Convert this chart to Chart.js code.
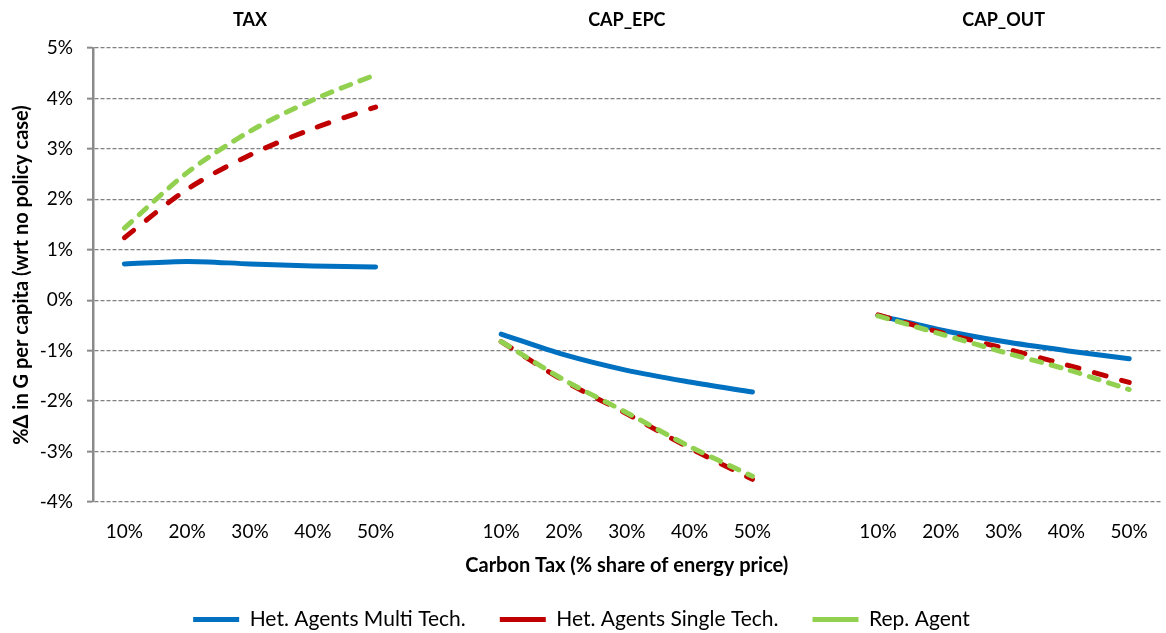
<!DOCTYPE html>
<html>
<head>
<meta charset="utf-8">
<script src="https://cdn.jsdelivr.net/npm/chart.js@4.4.1/dist/chart.umd.min.js"></script>
<style>
html,body{margin:0;padding:0;background:#fff;}
#wrap{width:1166px;height:633px;position:relative;}
</style>
</head>
<body>
<div id="wrap"><canvas id="c" width="1166" height="633"></canvas></div>
<script>
// Categories (three panels of carbon-tax levels, separated by an empty slot)
const taxLevels = ['10%', '20%', '30%', '40%', '50%'];
const panels = ['TAX', 'CAP_EPC', 'CAP_OUT'];

// Series values (% change in G per capita)
const multiTax = [0.72, 0.77, 0.72, 0.68, 0.66];
const multiEpc = [-0.67, -1.08, -1.39, -1.62, -1.82];
const multiOut = [-0.30, -0.59, -0.82, -1.00, -1.16];

const singleTax = [1.24, 2.20, 2.88, 3.40, 3.83];
const singleEpc = [-0.82, -1.60, -2.25, -2.93, -3.55];
const singleOut = [-0.29, -0.64, -0.95, -1.28, -1.63];

const repTax = [1.43, 2.53, 3.35, 3.97, 4.47];
const repEpc = [-0.82, -1.58, -2.23, -2.90, -3.49];
const repOut = [-0.31, -0.67, -1.03, -1.37, -1.77];

// Y ticks
const yMin = -4, yMax = 5, yStep = 1;

// Build combined category axis: panel1, gap, panel2, gap, panel3
const labels = [...taxLevels, '', ...taxLevels, '', ...taxLevels];
const topLabels = [];
panels.forEach((p, i) => {
  const block = taxLevels.map((_, j) => (j === 2 ? p : ''));
  topLabels.push(...block);
  if (i < panels.length - 1) topLabels.push('');
});
function join(a, b, c) { return [...a, null, ...b, null, ...c]; }

const FONT = 'Lato, "Open Sans", sans-serif';

new Chart(document.getElementById('c'), {
  type: 'line',
  data: {
    labels: labels,
    datasets: [
      {
        label: 'Het. Agents Multi Tech.',
        data: join(multiTax, multiEpc, multiOut),
        borderColor: '#0070C0', backgroundColor: '#0070C0',
        borderWidth: 5, borderCapStyle: 'round', borderJoinStyle: 'round',
        pointRadius: 0, tension: 0.3, spanGaps: false, order: 3
      },
      {
        label: 'Het. Agents Single Tech.',
        data: join(singleTax, singleEpc, singleOut),
        borderColor: '#C00000', backgroundColor: '#C00000',
        borderWidth: 5, borderDash: [12, 16], borderCapStyle: 'round', borderJoinStyle: 'round',
        pointRadius: 0, tension: 0.3, spanGaps: false, order: 2
      },
      {
        label: 'Rep. Agent',
        data: join(repTax, repEpc, repOut),
        borderColor: '#92D050', backgroundColor: '#92D050',
        borderWidth: 5, borderDash: [10, 10], borderCapStyle: 'round', borderJoinStyle: 'round',
        pointRadius: 0, tension: 0.3, spanGaps: false, order: 1
      }
    ]
  },
  options: {
    responsive: false,
    animation: false,
    events: [],
    layout: { padding: { left: 0, right: 3, top: 0, bottom: 0 } },
    plugins: {
      legend: {
        position: 'bottom',
        maxHeight: 58,
        labels: {
          usePointStyle: true,
          pointStyle: 'line',
          pointStyleWidth: 46,
          boxHeight: 21,
          padding: 34,
          color: '#000',
          font: { family: FONT, size: 21 },
          sort: (a, b) => a.datasetIndex - b.datasetIndex
        }
      },
      tooltip: { enabled: false }
    },
    scales: {
      x: {
        type: 'category',
        position: 'bottom',
        offset: true,
        grid: { display: false, drawTicks: false },
        border: { display: false },
        ticks: { color: '#000', font: { family: FONT, size: 19 }, padding: 18, autoSkip: false, maxRotation: 0 },
        title: {
          display: true,
          text: 'Carbon Tax (% share of energy price)',
          color: '#000',
          font: { family: FONT, size: 20, weight: 'bold' },
          padding: { top: 0, bottom: -3 }
        },
        afterFit(scale) { scale.height = 73; }
      },
      xTop: {
        type: 'category',
        position: 'top',
        labels: topLabels,
        offset: true,
        grid: { display: false, drawTicks: false },
        border: { display: false },
        ticks: { color: '#000', font: { family: FONT, size: 18, weight: 'bold' }, padding: 17, autoSkip: false, maxRotation: 0 },
        afterFit(scale) { scale.height = 48; }
      },
      y: {
        min: yMin, max: yMax,
        ticks: {
          stepSize: yStep,
          color: '#000',
          font: { family: FONT, size: 19 },
          padding: 14,
          callback: (v) => v + '%'
        },
        grid: {
          color: '#808080', lineWidth: 1.3,
          drawTicks: true, tickLength: 6, tickColor: '#8a8a8a', tickBorderDash: [], tickWidth: 2
        },
        border: { display: true, color: '#8a8a8a', width: 2.5, dash: [4, 2] },
        title: {
          display: true,
          text: '%Δ in G per capita (wrt no policy case)',
          color: '#000',
          font: { family: FONT, size: 20, weight: 'bold' },
          padding: { top: 10, bottom: 0 }
        },
        afterFit(scale) { scale.width = 93; }
      }
    }
  }
});
</script>
</body>
</html>
